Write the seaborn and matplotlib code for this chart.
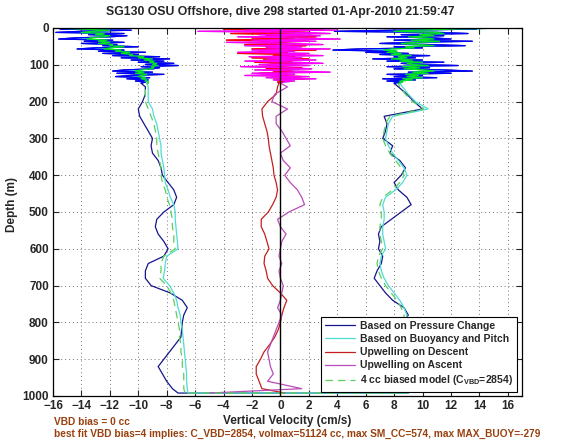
import numpy as np
import pandas as pd
import seaborn as sns
import matplotlib.pyplot as plt

sns.set_style("ticks")
plt.rcParams['font.family'] = ['Liberation Sans', 'DejaVu Sans']
plt.rcParams['font.weight'] = 'bold'
plt.rcParams['axes.labelweight'] = 'bold'
plt.rcParams['mathtext.fontset'] = 'custom'
plt.rcParams['mathtext.rm'] = 'Liberation Sans:bold'
plt.rcParams['mathtext.bf'] = 'Liberation Sans:bold'

title = "SG130 OSU Offshore, dive 298 started 01-Apr-2010 21:59:47"
note1 = "VBD bias = 0 cc"
note2 = "best fit VBD bias=4 implies: C_VBD=2854, volmax=51124 cc, max SM_CC=574, max MAX_BUOY=-279"

# depth grids (m)
surf_depth = list(range(0, 151, 3))
deep_depth = list(range(160, 981, 20))
bottom_depth = 992

# --- based on pressure change (blue)
blue_desc_surf = [-12.0, -15.5, -10.5, -14.0, -15.8, -11.0, -13.5, -10.8, -12.0, -14.5,
                  -15.6, -11.8, -13.8, -11.0, -14.0, -11.5, -12.5, -10.0, -13.0, -14.3,
                  -11.0, -12.8, -9.5, -12.5, -10.0, -11.8, -8.5, -11.2, -7.8, -10.5,
                  -8.2, -10.0, -7.5, -9.5, -7.2, -9.8, -8.5, -9.0, -11.0, -11.8,
                  -9.0, -11.5, -8.2, -10.5, -11.6, -9.2, -10.8, -9.3, -10.2, -9.5,
                  -9.8]
blue_desc_deep = [-9.5, -9.5, -9.7, -10.0, -9.9, -9.6, -9.3, -9.0, -9.1, -9.0,
                  -8.6, -8.4, -8.3, -7.9, -7.5, -7.3, -7.5, -8.2, -8.7, -8.8,
                  -8.6, -8.2, -7.9, -8.2, -9.3, -9.5, -9.5, -9.1, -7.75, -6.9,
                  -6.55, -6.8, -6.9, -6.95, -7.0, -7.4, -7.8, -8.2, -8.6, -8.3,
                  -8.0, -7.6]
blue_asc_surf = [10.5, 13.8, 8.0, 3.8, 11.0, 13.2, 8.5, 11.5, 7.5, 10.8,
                 12.0, 8.0, 13.5, 9.0, 7.0, 10.5, 13.0, 8.0, 10.0, 5.5,
                 3.7, 8.0, 6.0, 9.0, 7.0, 10.5, 8.0, 9.5, 6.5, 10.0,
                 7.5, 11.5, 8.5, 9.5, 12.5, 7.5, 10.5, 8.0, 11.5, 13.5,
                 9.0, 12.0, 7.5, 10.0, 8.0, 11.0, 7.2, 9.5, 7.5, 8.5,
                 8.0]
blue_asc_deep = [8.3, 8.9, 9.4, 10.0, 7.3, 7.5, 7.4, 7.2, 7.9, 7.7,
                 8.4, 8.8, 8.5, 8.0, 8.3, 8.9, 9.2, 8.5, 7.8, 7.1,
                 6.9, 7.0, 6.9, 7.2, 7.1, 6.8, 6.6, 7.0, 7.4, 7.9,
                 8.7, 9.0, 8.6, 8.4, 8.7, 9.0, 8.8, 9.1, 9.3, 9.0,
                 9.2, 9.0]
blue_bottom = [-7.2, 9.0]

# --- based on buoyancy and pitch (cyan)
cyan_desc_surf = [-15.0, -14.5, -11.5, -13.5, -14.8, -12.0, -13.2, -11.5, -12.2, -13.8,
                  -14.2, -12.0, -13.0, -11.8, -13.2, -12.0, -12.3, -10.8, -12.5, -13.0,
                  -11.3, -12.0, -10.5, -11.8, -10.5, -11.0, -9.5, -10.5, -8.8, -10.0,
                  -8.8, -9.5, -8.5, -9.2, -8.3, -9.3, -8.8, -9.0, -10.0, -10.6,
                  -9.4, -10.5, -9.0, -10.0, -10.4, -9.4, -10.0, -9.3, -9.6, -9.3,
                  -9.4]
cyan_desc_deep = [-9.3, -9.3, -9.3, -9.0, -8.9, -8.7, -8.6, -8.5, -8.4, -8.4,
                  -8.3, -8.2, -8.15, -8.1, -7.9, -7.75, -7.5, -7.4, -7.4, -7.35,
                  -7.3, -7.25, -7.2, -8.0, -8.1, -8.15, -8.25, -7.8, -7.5, -7.3,
                  -7.2, -7.05, -7.0, -6.9, -6.85, -6.8, -6.75, -6.7, -6.65, -6.6,
                  -6.6, -6.55]
cyan_asc_surf = [15.5, 12.5, 9.0, 7.0, 11.5, 12.0, 9.5, 11.0, 8.5, 10.5,
                 11.0, 9.0, 12.0, 9.5, 8.0, 10.0, 11.5, 8.5, 9.5, 7.0,
                 6.5, 8.0, 7.0, 8.5, 7.5, 9.5, 8.2, 9.0, 7.5, 9.5,
                 8.2, 10.5, 8.8, 9.3, 11.0, 8.3, 10.0, 8.5, 10.5, 11.5,
                 9.2, 10.8, 8.5, 9.8, 8.6, 10.2, 8.3, 9.4, 8.2, 8.6,
                 8.4]
cyan_asc_deep = [8.6, 9.0, 9.5, 10.4, 7.9, 7.6, 7.5, 7.4, 7.6, 7.9,
                 8.3, 8.7, 8.9, 8.6, 8.1, 7.4, 7.2, 7.3, 7.3, 7.2,
                 7.2, 7.3, 7.4, 7.1, 7.0, 7.1, 7.3, 7.6, 8.0, 8.4,
                 8.7, 8.9, 8.9, 9.0, 9.0, 9.1, 9.1, 9.0, 9.1, 9.1,
                 9.0, 9.0]
cyan_bottom = [-6.5, 9.0]

# --- 4 cc biased model (green dashed)
green_desc_surf = [-15.9, -14.0, -12.0, -13.2, -14.0, -12.4, -13.0, -12.0, -12.4, -13.4,
                   -13.6, -12.2, -12.8, -12.0, -12.8, -11.8, -12.0, -11.0, -12.0, -12.4,
                   -11.2, -11.6, -10.6, -11.2, -10.4, -10.6, -9.6, -10.0, -9.0, -9.6,
                   -8.9, -9.2, -8.7, -9.0, -8.6, -9.1, -8.9, -9.1, -9.8, -10.2,
                   -9.6, -10.2, -9.4, -9.8, -10.0, -9.5, -9.8, -9.4, -9.5, -9.3,
                   -9.3]
green_desc_deep = [-9.5, -9.5, -9.5, -9.3, -9.1, -8.9, -8.8, -8.7, -8.7, -8.6,
                   -8.5, -8.4, -8.4, -8.3, -8.1, -8.0, -7.8, -7.7, -7.6, -7.6,
                   -7.5, -7.5, -7.4, -8.2, -8.4, -8.4, -8.5, -8.0, -7.7, -7.5,
                   -7.4, -7.3, -7.2, -7.1, -7.1, -7.0, -7.0, -6.9, -6.9, -6.8,
                   -6.8, -6.8]
green_asc_surf = [16.0, 12.0, 9.5, 8.0, 11.0, 11.5, 9.8, 10.8, 9.0, 10.2,
                  10.8, 9.2, 11.2, 9.6, 8.5, 9.8, 10.8, 8.8, 9.4, 7.8,
                  7.3, 8.2, 7.5, 8.5, 7.8, 9.2, 8.3, 8.9, 7.8, 9.3,
                  8.4, 10.0, 8.9, 9.2, 10.4, 8.6, 9.8, 8.7, 10.2, 10.8,
                  9.3, 10.4, 8.8, 9.7, 8.9, 10.0, 8.6, 9.3, 8.4, 8.6,
                  8.3]
green_asc_deep = [8.4, 8.8, 9.3, 10.1, 7.7, 7.4, 7.3, 7.2, 7.4, 7.7,
                  8.1, 8.5, 8.7, 8.4, 7.9, 7.2, 7.0, 7.1, 7.1, 7.0,
                  7.0, 7.1, 7.2, 6.9, 6.8, 6.9, 7.1, 7.4, 7.8, 8.2,
                  8.5, 8.7, 8.7, 8.8, 8.8, 8.9, 8.9, 8.8, 8.9, 8.9,
                  8.8, 8.8]
green_bottom = [-6.7, 8.8]

# --- upwelling on descent (red) / ascent (magenta)
red_surf = [4.5, -4.0, 3.0, -2.5, 2.0, -3.5, 1.5, -1.0, 2.5, -2.0,
            1.0, -3.8, 2.0, -1.5, 0.5, -2.5, 1.8, -1.0, 1.0, -2.0,
            2.5, -1.5, 0.5, -3.0, 1.5, -0.5, 1.0, -2.0, 2.0, -1.2,
            0.8, -1.8, 1.2, -0.8, 0.5, -1.5, 1.5, -1.0, 0.8, -0.5,
            1.0, -1.5, 0.5, -1.0, 1.5, -0.5, 1.7, -0.3, 0.5, -0.2,
            -0.1]
red_deep = [-0.2, -0.3, -0.9, -1.3, -1.25, -1.1, -0.95, -0.85, -0.8, -0.7,
            -0.6, -0.5, -0.45, -0.3, -0.2, -0.3, -0.55, -0.85, -1.35, -1.35,
            -1.1, -0.95, -0.8, -1.1, -1.15, -1.0, -0.9, -0.55, 0.0, 0.45,
            0.25, 0.1, 0.0, -0.15, -0.4, -0.75, -1.15, -1.4, -1.7, -1.7,
            -1.5, -1.3]
red_bottom = 0.3
mag_surf = [2.0, -2.5, 4.0, -5.8, 1.5, 3.5, -1.5, 2.8, -3.0, 1.0,
            4.2, -2.0, 2.5, -3.8, 0.5, 3.0, -2.5, 1.5, -1.0, 3.5,
            -2.0, 1.0, -3.0, 2.0, 0.0, 3.0, -2.2, 1.5, -1.0, 2.5,
            -2.5, 1.0, 3.0, -1.5, 2.0, -2.8, 0.5, 2.2, -1.8, 1.0,
            3.5, -2.0, 1.0, -2.5, 2.0, -1.0, 2.5, -0.5, 1.0, 0.2,
            0.0]
mag_deep = [0.5, -0.4, -0.6, 0.5, -0.3, -0.3, 0.1, 0.4, 0.7, 0.0,
            0.2, 0.7, 0.3, 0.7, 1.2, 1.5, 1.7, 0.6, -0.2, 0.0,
            0.4, 0.1, 0.0, -0.1, 0.1, -0.1, 0.0, 0.2, 0.1, 0.0,
            -0.2, 0.1, -0.1, -0.3, -0.5, -0.7, -0.9, -0.8, -0.7, -0.5,
            -0.9, 1.5]
mag_bottom = -5.0


def dive(ds, dd, bot, asd, asu):
    w = ds + dd + [bot[0], bot[1]] + asd[::-1] + asu[::-1]
    d = surf_depth + deep_depth + [bottom_depth, bottom_depth] + deep_depth[::-1] + surf_depth[::-1]
    return pd.DataFrame({'w': w, 'depth': d})


def leg(vals, deep, bot, ascent=False):
    w = vals + deep + [bot]
    d = surf_depth + deep_depth + [bottom_depth]
    return pd.DataFrame({'w': w[::-1] if ascent else w, 'depth': d[::-1] if ascent else d})


def surf(vals):
    return pd.DataFrame({'w': vals, 'depth': surf_depth})


navy = '#15158c'
cyan = '#4fdcd4'
dred = '#c41e1e'
purple = '#b84cb8'
lgreen = '#5ccf5c'

fig, ax = plt.subplots(figsize=(5.61, 4.42), dpi=100)
fig.subplots_adjust(left=53/561, right=522/561, top=1-28/442, bottom=1-396/442)

kw = dict(x='w', y='depth', sort=False, estimator=None, ax=ax, lw=0.9)
sns.lineplot(data=dive(blue_desc_surf, blue_desc_deep, blue_bottom, blue_asc_deep, blue_asc_surf),
             color=navy, label='Based on Pressure Change', **kw)
sns.lineplot(data=dive(cyan_desc_surf, cyan_desc_deep, cyan_bottom, cyan_asc_deep, cyan_asc_surf),
             color=cyan, label='Based on Buoyancy and Pitch', **kw)
sns.lineplot(data=leg(red_surf, red_deep, red_bottom), color=dred,
             label='Upwelling on Descent', **kw)
sns.lineplot(data=leg(mag_surf, mag_deep, mag_bottom, ascent=True), color=purple,
             label='Upwelling on Ascent', **kw)
sns.lineplot(data=dive(green_desc_surf, green_desc_deep, green_bottom, green_asc_deep, green_asc_surf),
             color=lgreen, linestyle=(0, (6, 4)),
             label=r'4 cc biased model (C$_{\mathrm{VBD}}$=2854)', **kw)
handles, labels = ax.get_legend_handles_labels()

# near-surface part drawn in bright colours
for vals, col in [(cyan_desc_surf, cyan), (cyan_asc_surf, cyan),
                  (blue_desc_surf, '#0000ff'), (blue_asc_surf, '#0000ff'),
                  (red_surf, '#ff0000'), (mag_surf, '#ff00ff'),
                  (green_desc_surf, '#00e61e'), (green_asc_surf, '#00e61e')]:
    sns.lineplot(data=surf(vals), color=col, **kw)

ax.axvline(0, color='black', lw=1.0, zorder=5)

ax.set_xlim(-16, 17)
ax.set_ylim(1000, 0)
ax.set_xticks(range(-16, 17, 2))
ax.set_yticks(range(0, 1001, 100))
ax.grid(True, linestyle=(0, (1, 3)), color='0.45', lw=0.7)
ax.tick_params(direction='in', top=True, right=True, length=4, width=0.8,
               labelsize=8.5, pad=3)
for s in ax.spines.values():
    s.set_color('black')
    s.set_linewidth(0.9)

ax.set_xlabel('Vertical Velocity (cm/s)', fontsize=8.5)
ax.set_ylabel('Depth (m)', fontsize=8.5)
ax.xaxis.set_label_coords(0.5, -0.052)
ax.yaxis.set_label_coords(-0.075, 0.52)

lg = ax.legend(handles, labels, loc='lower right', bbox_to_anchor=(0.99, 0.012),
               borderaxespad=0, fancybox=False, framealpha=1, edgecolor='black',
               fontsize=7.5, handlelength=2.9, handletextpad=0.5, labelspacing=0.3,
               borderpad=0.4)
lg.get_frame().set_linewidth(0.8)
lg.set_zorder(10)

fig.text(0.5, 1-12/442, title, ha='center', va='center', fontsize=8.8)
fig.text(54/561, 1-422/442, note1, ha='left', va='center', fontsize=7.3, color='#99400f')
fig.text(54/561, 1-434/442, note2, ha='left', va='center', fontsize=7.3, color='#99400f')

fig.savefig('out.png', dpi=100)
